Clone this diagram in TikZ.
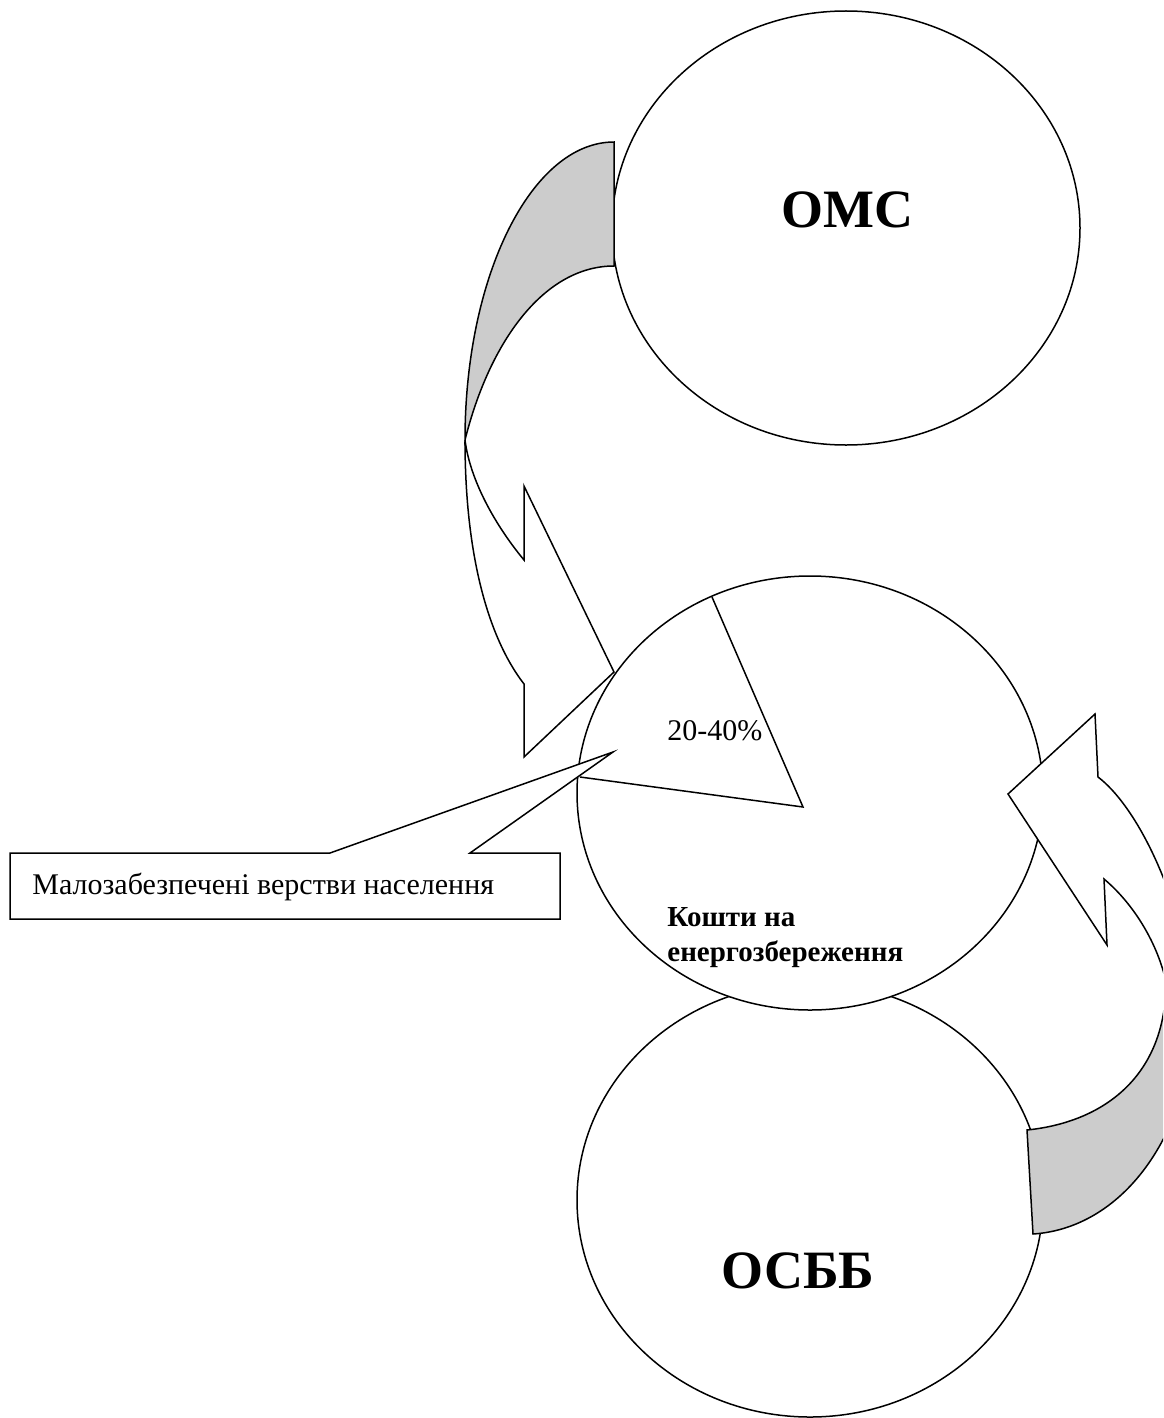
\documentclass[tikz,border=0pt]{standalone}
\usepackage{fontspec}
\setmainfont{Liberation Serif}
\begin{document}
\begin{tikzpicture}[x=0.5pt,y=-0.5pt,
  outline/.style={draw=black,line width=0.75pt,line join=miter},
  bubble/.style={outline,fill=white},
  band/.style={outline,fill=black!20},
  bigtxt/.style={font=\fontsize{27}{30}\selectfont\bfseries},
  midtxt/.style={font=\fontsize{15}{18}\selectfont},
  midbold/.style={font=\fontsize{14.5}{17}\selectfont\bfseries}]
\useasboundingbox (0,0) rectangle (1163,1418);
\clip (0,0) rectangle (1163,1418);
% circles
\draw[bubble] (810,1200) ellipse [x radius=233, y radius=217];
\draw[bubble] (810,793) ellipse [x radius=233, y radius=217];
\draw[bubble] (846,228) ellipse [x radius=234, y radius=217];
% pie wedge
\coordinate (apex) at (803,807);
\coordinate (wedgeA) at (712,597);
\coordinate (wedgeB) at (580,777);
\draw[outline] (wedgeA) -- (apex) -- (wedgeB);
% labels
\node[bigtxt,anchor=base] (omc) at (847,227) {ОМС};
\node[bigtxt,anchor=base] (osbb) at (798,1288) {ОСББ};
\node[midtxt,anchor=base west,inner sep=0pt] (pct) at (667,740) {20-40\%};
\node[midbold,anchor=base west,inner sep=0pt] (k1) at (667,926) {Кошти на};
\node[midbold,anchor=base west,inner sep=0pt] (k2) at (667,961) {енергозбереження};
% left curved arrow (down)
\draw[band] (614,142) .. controls (532,142) and (465,275) .. (465,440)
  .. controls (490,340) and (545,266) .. (614,266) -- cycle;
\draw[bubble] (465,440) .. controls (465,560) and (490,640) .. (524,684)
  -- (524,757) -- (614,672) -- (524,486) -- (524,560)
  .. controls (495,525) and (470,480) .. (465,440) -- cycle;
% right curved arrow (up)
\draw[band] (1195,1000) .. controls (1195,1130) and (1125,1228) .. (1033,1234)
  -- (1027,1130) .. controls (1105,1122) and (1166,1075) .. (1166,982) -- cycle;
\draw[bubble] (1166,982) -- (1195,1000)
  .. controls (1180,890) and (1135,805) .. (1098,777)
  -- (1095,714) -- (1008,794) -- (1107,945) -- (1104,879)
  .. controls (1135,905) and (1158,945) .. (1166,982) -- cycle;
% callout
\draw[bubble] (10,853) -- (330,853) -- (613,752) -- (470,853) -- (560,853)
  -- (560,919) -- (10,919) -- cycle;
\node[midtxt,anchor=base west,inner sep=0pt] (poor) at (32,894) {Малозабезпечені верстви населення};
\end{tikzpicture}
\end{document}
